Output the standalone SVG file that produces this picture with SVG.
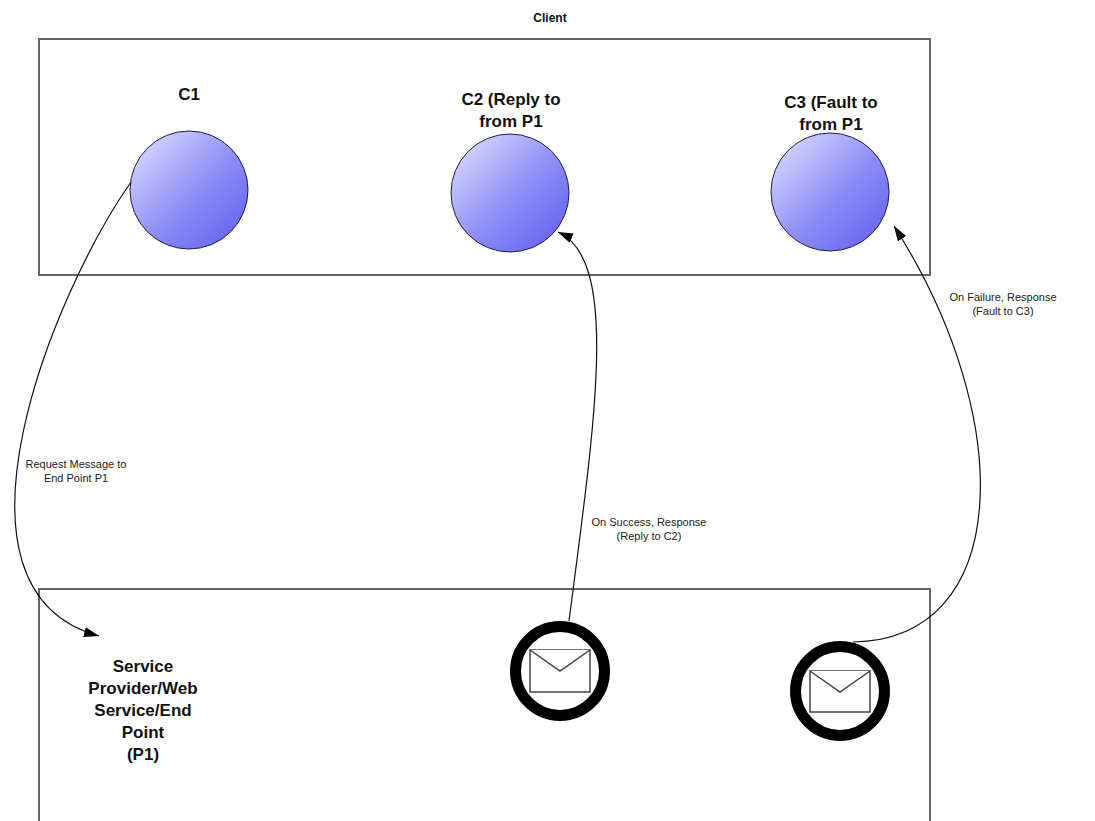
<svg xmlns="http://www.w3.org/2000/svg" width="1095" height="821" viewBox="0 0 1095 821">
<defs>
<linearGradient id="ball" x1="0" y1="0" x2="1" y2="1">
<stop offset="0" stop-color="#e4e4ff"/>
<stop offset="0.55" stop-color="#8c8cf6"/>
<stop offset="1" stop-color="#5c5cee"/>
</linearGradient>
<marker id="arr" markerWidth="16" markerHeight="12" refX="15" refY="5" orient="auto" markerUnits="userSpaceOnUse">
<path d="M0,0 L15,5 L0,10 Z" fill="#000"/>
</marker>
</defs>
<style>
.box{fill:#fff;stroke:#666;stroke-width:2}
.ball{fill:url(#ball);stroke:#1e1e50;stroke-width:1}
.ring{fill:#fff;stroke:#000;stroke-width:11}
.env{fill:#fff;stroke:#444;stroke-width:1.5}
.conn{fill:none;stroke:#111;stroke-width:1.2}
.title{font-family:"Liberation Sans",Arial,sans-serif;font-weight:bold;fill:#111;text-anchor:middle}
.lbl{font-family:"Liberation Sans",Arial,sans-serif;font-size:11px;fill:#222;text-anchor:middle}
</style>
<rect width="1095" height="821" fill="#fff"/>
<g id="client">
<rect class="box" x="39" y="39" width="891" height="236"/>
<text class="title" x="550" y="22" font-size="12">Client</text>
</g>
<g id="provider">
<rect class="box" x="39" y="589" width="891" height="260"/>
<text class="title" font-size="17" x="143" y="672">Service</text>
<text class="title" font-size="17" x="143" y="694">Provider/Web</text>
<text class="title" font-size="17" x="143" y="716">Service/End</text>
<text class="title" font-size="17" x="143" y="738">Point</text>
<text class="title" font-size="17" x="143" y="760">(P1)</text>
</g>
<g id="c1">
<circle class="ball" cx="189" cy="190" r="59"/>
<text class="title" font-size="17" x="189" y="100">C1</text>
</g>
<g id="c2">
<circle class="ball" cx="510" cy="193" r="59"/>
<text class="title" font-size="17" x="511" y="105">C2 (Reply to</text>
<text class="title" font-size="17" x="511" y="127">from P1</text>
</g>
<g id="c3">
<circle class="ball" cx="830" cy="192" r="59"/>
<text class="title" font-size="17" x="831" y="108">C3 (Fault to</text>
<text class="title" font-size="17" x="831" y="130">from P1</text>
</g>
<g id="msg1">
<circle class="ring" cx="560" cy="671" r="44.5"/>
<rect class="env" x="530" y="650" width="60" height="42"/>
<path class="env" d="M530,650 L560,671 L590,650" fill="none"/>
</g>
<g id="msg2">
<circle class="ring" cx="840" cy="691" r="44.5"/>
<rect class="env" x="810" y="671" width="60" height="41"/>
<path class="env" d="M810,671 L840,692 L870,671" fill="none"/>
</g>
<g id="connectors">
<path class="conn" d="M131,182 C55,290 -70,590 99,636" marker-end="url(#arr)"/>
<path class="conn" d="M569,621 C595,420 620,260 558,232" marker-end="url(#arr)"/>
<path class="conn" d="M853,642 C1012,640 1018,420 894,226" marker-end="url(#arr)"/>
<text class="lbl" x="76" y="468">Request Message to</text>
<text class="lbl" x="76" y="482">End Point P1</text>
<text class="lbl" x="649" y="526">On Success, Response</text>
<text class="lbl" x="649" y="540">(Reply to C2)</text>
<text class="lbl" x="1003" y="301">On Failure, Response</text>
<text class="lbl" x="1003" y="315">(Fault to C3)</text>
</g>
</svg>
